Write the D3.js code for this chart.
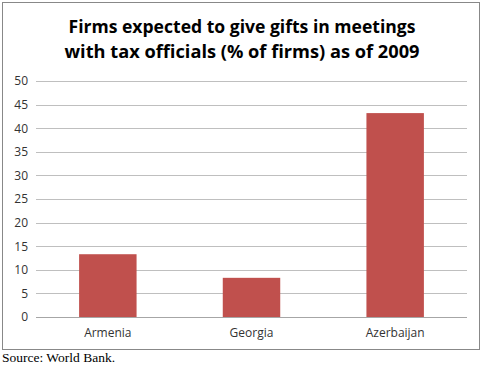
<!DOCTYPE html>
<html>
<head>
<meta charset="utf-8">
<script src="https://cdn.jsdelivr.net/npm/d3@7"></script>
<style>
  body { margin: 0; background: #fff; }
  svg { display: block; }
</style>
</head>
<body>
<div id="chart"></div>
<script>
// chart data
const countries = ["Armenia", "Georgia", "Azerbaijan"];
const giftShare = [13.3, 8.3, 43.2];
const yTicks = [0, 5, 10, 15, 20, 25, 30, 35, 40, 45, 50];
const titleLines = ["Firms expected to give gifts in meetings", "with tax officials (% of firms) as of 2009"];
const sourceNote = "Source: World Bank.";

const W = 485, H = 366;
const margin = {top: 81, right: 18, bottom: 49, left: 36};
const width = W - margin.left - margin.right;
const height = H - margin.top - margin.bottom;

const svg = d3.select("#chart").append("svg")
    .attr("width", W)
    .attr("height", H);

// outer frame
svg.append("rect")
    .attr("x", 2.5).attr("y", 2.5)
    .attr("width", 477).attr("height", 347)
    .attr("fill", "#fff")
    .attr("stroke", "#888")
    .attr("stroke-width", 1);

// title
svg.append("g").selectAll("text")
    .data(titleLines)
    .join("text")
    .attr("x", 242)
    .attr("y", (d, i) => 33 + i * 25)
    .attr("text-anchor", "middle")
    .attr("font-family", "'Open Sans', 'Liberation Sans', sans-serif")
    .attr("font-weight", "bold")
    .attr("font-size", 18.5)
    .attr("textLength", (d, i) => i === 0 ? 347 : 355)
    .attr("lengthAdjust", "spacingAndGlyphs")
    .attr("fill", "#000")
    .text(d => d);

const g = svg.append("g")
    .attr("transform", `translate(${margin.left},${margin.top})`);

const x = d3.scaleBand()
    .domain(countries)
    .range([0, width])
    .paddingInner(0.6)
    .paddingOuter(0.3);

const y = d3.scaleLinear()
    .domain([0, 50])
    .range([height, 0]);

// gridlines
g.append("g")
    .selectAll("line")
    .data(yTicks)
    .join("line")
    .attr("x1", 0).attr("x2", width)
    .attr("y1", d => Math.round(y(d)) + 0.5)
    .attr("y2", d => Math.round(y(d)) + 0.5)
    .attr("stroke", d => d === 0 ? "#a6a6a6" : "#bfbfbf")
    .attr("stroke-width", 1);

// y tick labels
const yAxis = d3.axisLeft(y).tickValues(yTicks).tickSize(0).tickPadding(8);
g.append("g")
    .call(yAxis)
    .call(a => a.select(".domain").remove())
    .selectAll("text")
    .attr("font-family", "'Open Sans', 'Liberation Sans', sans-serif")
    .attr("font-size", 12)
    .attr("fill", "#333");

// bars
g.append("g")
    .selectAll("rect")
    .data(countries)
    .join("rect")
    .attr("x", d => x(d))
    .attr("width", x.bandwidth())
    .attr("y", (d, i) => y(giftShare[i]))
    .attr("height", (d, i) => height - y(giftShare[i]))
    .attr("fill", "#c0504d");

// x labels
const xAxis = d3.axisBottom(x).tickSize(0).tickPadding(11);
g.append("g")
    .attr("transform", `translate(0,${height})`)
    .call(xAxis)
    .call(a => a.select(".domain").remove())
    .selectAll("text")
    .attr("font-family", "'Open Sans', 'Liberation Sans', sans-serif")
    .attr("font-size", 12)
    .attr("fill", "#333");

// source
svg.append("text")
    .attr("x", 2)
    .attr("y", 362)
    .attr("font-family", "'Liberation Serif', 'DejaVu Serif', serif")
    .attr("font-size", 13.5)
    .attr("fill", "#000")
    .text(sourceNote);
</script>
</body>
</html>
